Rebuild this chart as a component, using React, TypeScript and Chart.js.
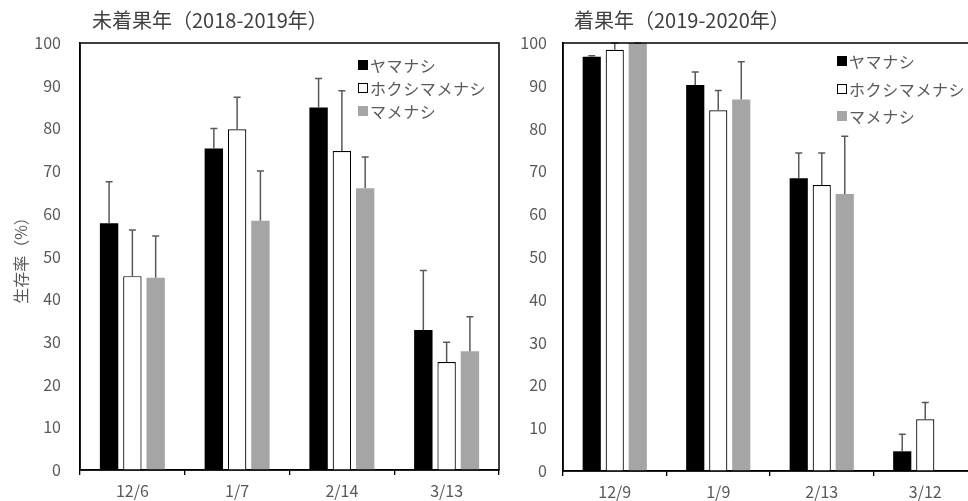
import React, { useEffect, useRef } from "react";
import { Chart, registerables } from "chart.js";

Chart.register(...registerables);

const FONT = "'Noto Sans CJK JP', 'Noto Sans', sans-serif";

const seriesNames = ["ヤマナシ", "ホクシマメナシ", "マメナシ"];

// Left panel: 未着果年（2018-2019年）
const leftTitle = "未着果年（2018-2019年）";
const leftDates = ["12/6", "1/7", "2/14", "3/13"];
const leftYamanashi = [57.8, 75.3, 84.9, 32.8];
const leftYamanashiErr = [9.7, 4.7, 6.8, 13.9];
const leftHokushima = [45.4, 79.8, 74.7, 25.3];
const leftHokushimaErr = [10.8, 7.5, 14.1, 4.6];
const leftMamenashi = [45.0, 58.4, 66.0, 27.8];
const leftMamenashiErr = [9.8, 11.6, 7.3, 8.1];

// Right panel: 着果年（2019-2020年）
const rightTitle = "着果年（2019-2020年）";
const rightDates = ["12/9", "1/9", "2/13", "3/12"];
const rightYamanashi = [96.8, 90.2, 68.4, 4.6];
const rightYamanashiErr = [0.2, 3.0, 5.9, 4.0];
const rightHokushima = [98.4, 84.3, 66.8, 12.1];
const rightHokushimaErr = [1.6, 4.6, 7.5, 3.9];
const rightMamenashi = [100, 86.8, 64.7, null];
const rightMamenashiErr = [0, 8.8, 13.5, null];

const yTicks = [0, 10, 20, 30, 40, 50, 60, 70, 80, 90, 100];
const yTitle = "生存率（%）";

const fills = ["#000000", "#ffffff", "#a5a5a5"];
const borders = ["#000000", "#000000", "#a5a5a5"];
const borderWidths = [0, 1.2, 0];

type PanelOpts = {
  labels: string[];
  values: (number | null)[][];
  errs: (number | null)[][];
  title: string;
  titleX: number;
  showYTitle: boolean;
  yPad: number;
  xHeight: number;
  padRight: number;
  legendX: number;
  legendRows: number[];
};

function buildConfig(p: PanelOpts): any {
  const panelPlugin = {
    id: "panelExtras",
    afterDatasetsDraw(chart: any) {
      const ctx = chart.ctx;
      const ys = chart.scales.y;
      const area = chart.chartArea;
      // error bars
      ctx.save();
      ctx.strokeStyle = "#595959";
      ctx.lineWidth = 1.5;
      chart.data.datasets.forEach((ds: any, i: number) => {
        const meta = chart.getDatasetMeta(i);
        meta.data.forEach((el: any, j: number) => {
          const v = ds.data[j];
          const e = p.errs[i][j];
          if (v == null || e == null) return;
          const x = el.x;
          const y0 = ys.getPixelForValue(v);
          const y1 = ys.getPixelForValue(v + e);
          ctx.beginPath();
          ctx.moveTo(x, y0);
          ctx.lineTo(x, y1);
          ctx.moveTo(x - 3.5, y1);
          ctx.lineTo(x + 3.5, y1);
          ctx.stroke();
        });
      });
      ctx.restore();
      // frame
      ctx.save();
      ctx.strokeStyle = "#000";
      ctx.lineWidth = 1.5;
      ctx.strokeRect(area.left, area.top, area.right - area.left, area.bottom - area.top);
      ctx.restore();
    },
    afterDraw(chart: any) {
      const ctx = chart.ctx;
      ctx.save();
      // title
      ctx.font = `20px ${FONT}`;
      ctx.fillStyle = "#404040";
      ctx.textBaseline = "middle";
      ctx.textAlign = "left";
      ctx.fillText(p.title, p.titleX, 20);
      // legend
      ctx.font = `16px ${FONT}`;
      try {
        (ctx as any).letterSpacing = "0.6px";
      } catch (e) {}
      chart.data.datasets.forEach((ds: any, i: number) => {
        const yy = p.legendRows[i];
        ctx.fillStyle = fills[i];
        ctx.fillRect(p.legendX, yy - 5, 10, 10);
        if (i === 1) {
          ctx.strokeStyle = "#000";
          ctx.lineWidth = 1;
          ctx.strokeRect(p.legendX + 0.5, yy - 4.5, 9, 9);
        }
        ctx.fillStyle = "#595959";
        ctx.fillText(ds.label, p.legendX + 12, yy + 1);
      });
      ctx.restore();
    },
  };

  return {
    type: "bar",
    data: {
      labels: p.labels,
      datasets: seriesNames.map((name, i) => ({
        label: name,
        data: p.values[i],
        backgroundColor: fills[i],
        borderColor: borders[i],
        borderWidth: borderWidths[i],
        categoryPercentage: 0.667,
        barPercentage: 0.79,
      })),
    },
    options: {
      responsive: false,
      animation: false,
      layout: { padding: { top: 43, left: 0, right: p.padRight, bottom: 0 } },
      plugins: {
        legend: { display: false },
        title: { display: false },
        tooltip: { enabled: false },
      },
      scales: {
        x: {
          type: "category",
          grid: {
            display: true,
            drawOnChartArea: false,
            drawTicks: true,
            tickLength: 5,
            color: "#000",
            lineWidth: 1.3,
            offset: true,
          },
          border: { display: true, color: "#000", width: 1.5 },
          ticks: {
            font: { family: FONT, size: 16 },
            color: "#595959",
            padding: 6,
            maxRotation: 0,
          },
          afterFit: (s: any) => {
            s.height = p.xHeight;
          },
        },
        y: {
          min: 0,
          max: 100,
          afterBuildTicks: (s: any) => {
            s.ticks = yTicks.map((v) => ({ value: v }));
          },
          grid: { display: false, drawTicks: false },
          border: { display: true, color: "#000", width: 1.5 },
          ticks: {
            font: { family: FONT, size: 16 },
            color: "#595959",
            padding: p.yPad,
          },
          title: {
            display: p.showYTitle,
            text: yTitle,
            font: { family: FONT, size: 16 },
            color: "#595959",
            padding: { top: 11, bottom: 0 },
          },
          afterFit: (s: any) => {
            s.width = 80;
          },
        },
      },
    },
    plugins: [panelPlugin],
  };
}

function Panel({ opts, left, width }: { opts: PanelOpts; left: number; width: number }) {
  const ref = useRef<HTMLCanvasElement | null>(null);
  useEffect(() => {
    if (!ref.current) return;
    const chart = new Chart(ref.current, buildConfig(opts));
    return () => chart.destroy();
  }, []);
  return (
    <canvas
      ref={ref}
      width={width}
      height={501}
      style={{ position: "absolute", left, top: 0, width, height: 501, display: "block" }}
    />
  );
}

export default function App() {
  Chart.defaults.font.family = FONT;
  const leftOpts: PanelOpts = {
    labels: leftDates,
    values: [leftYamanashi, leftHokushima, leftMamenashi],
    errs: [leftYamanashiErr, leftHokushimaErr, leftMamenashiErr],
    title: leftTitle,
    titleX: 92,
    showYTitle: true,
    yPad: 19,
    xHeight: 31,
    padRight: 6,
    legendX: 358,
    legendRows: [65, 88, 111],
  };
  const rightOpts: PanelOpts = {
    labels: rightDates,
    values: [rightYamanashi, rightHokushima, rightMamenashi],
    errs: [rightYamanashiErr, rightHokushimaErr, rightMamenashiErr],
    title: rightTitle,
    titleX: 574 - 483,
    showYTitle: false,
    yPad: 16,
    xHeight: 30,
    padRight: 6,
    legendX: 837 - 483,
    legendRows: [61, 89, 116],
  };
  return (
    <div
      style={{
        position: "absolute",
        left: 0,
        top: 0,
        width: 968,
        height: 501,
        overflow: "hidden",
        background: "#fff",
      }}
    >
      <Panel opts={leftOpts} left={0} width={505} />
      <Panel opts={rightOpts} left={483} width={500} />
    </div>
  );
}
